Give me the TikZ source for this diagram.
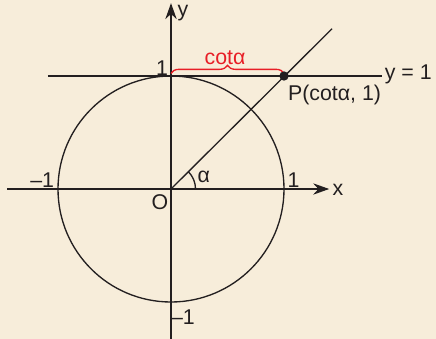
\documentclass[tikz,border=0pt]{standalone}
\usepackage{fontspec}
\setmainfont{Liberation Sans}
\usetikzlibrary{arrows.meta, decorations.pathreplacing}
\definecolor{bgBeige}{RGB}{247,237,218}
\definecolor{braceRed}{RGB}{232,30,38}
\definecolor{lineDark}{RGB}{35,31,32}

\begin{document}
\begin{tikzpicture}[x=84.75pt, y=84.75pt,
line/.style={draw=lineDark, line width=1pt},
axis/.style={line, -{Stealth[length=12pt, width=8.5pt]}},
label/.style={font=\fontsize{16}{18}\selectfont, text=lineDark, inner sep=0pt},
dot/.style={circle, fill=lineDark, inner sep=0pt, minimum size=7pt}]
% background and frame of the page
\fill[bgBeige] (-1.5133,-1.3274) rectangle (2.3451,1.6726);
\useasboundingbox (-1.5133,-1.3274) rectangle (2.3451,1.6726);
\coordinate (O) at (0,0);
\coordinate (T) at (0,1);
\coordinate (P) at (1,1);
\coordinate (xstart) at (-1.45,0);
\coordinate (xend) at (1.40,0);
\coordinate (ystart) at (0,-1.33);
\coordinate (yend) at (0,1.645);
\coordinate (lstart) at (-1.09,1);
\coordinate (lend) at (1.87,1);
\coordinate (rayend) at (1.425,1.418);
% unit circle and lines
\draw[line] (O) circle (1);
\draw[line] (lstart) -- (lend);
\draw[line] (O) -- (rayend);
\draw[line] (0.217,0) arc (0:45:0.217);
\draw[axis] (xstart) -- (xend);
\draw[axis] (ystart) -- (yend);
\draw[braceRed, line width=1pt, decorate,
  decoration={brace, amplitude=6pt, raise=2pt}] (T) -- (P);
\node[dot] (Pdot) at (P) {};
% labels
\node[label] (xlabel) at (1.478,-0.01) {x};
\node[label] (ylabel) at (0.106,1.555) {y};
\node[label] (orig) at (-0.097,-0.115) {O};
\node[label] (alpha) at (0.29,0.11) {α};
\node[label] (one top) at (-0.08,1.07) {1};
\node[label] (one right) at (1.085,0.08) {1};
\node[label] (mone left) at (-1.14,0.075) {–1};
\node[label] (mone bottom) at (0.106,-1.13) {–1};
\node[label, text=braceRed] (cot) at (0.478,1.165) {cotα};
\node[label] (Plabel) at (1.447,0.83) {P(cotα, 1)};
\node[label, anchor=west] (line label) at (1.89,1.01) {y = 1};
\end{tikzpicture}
\end{document}
